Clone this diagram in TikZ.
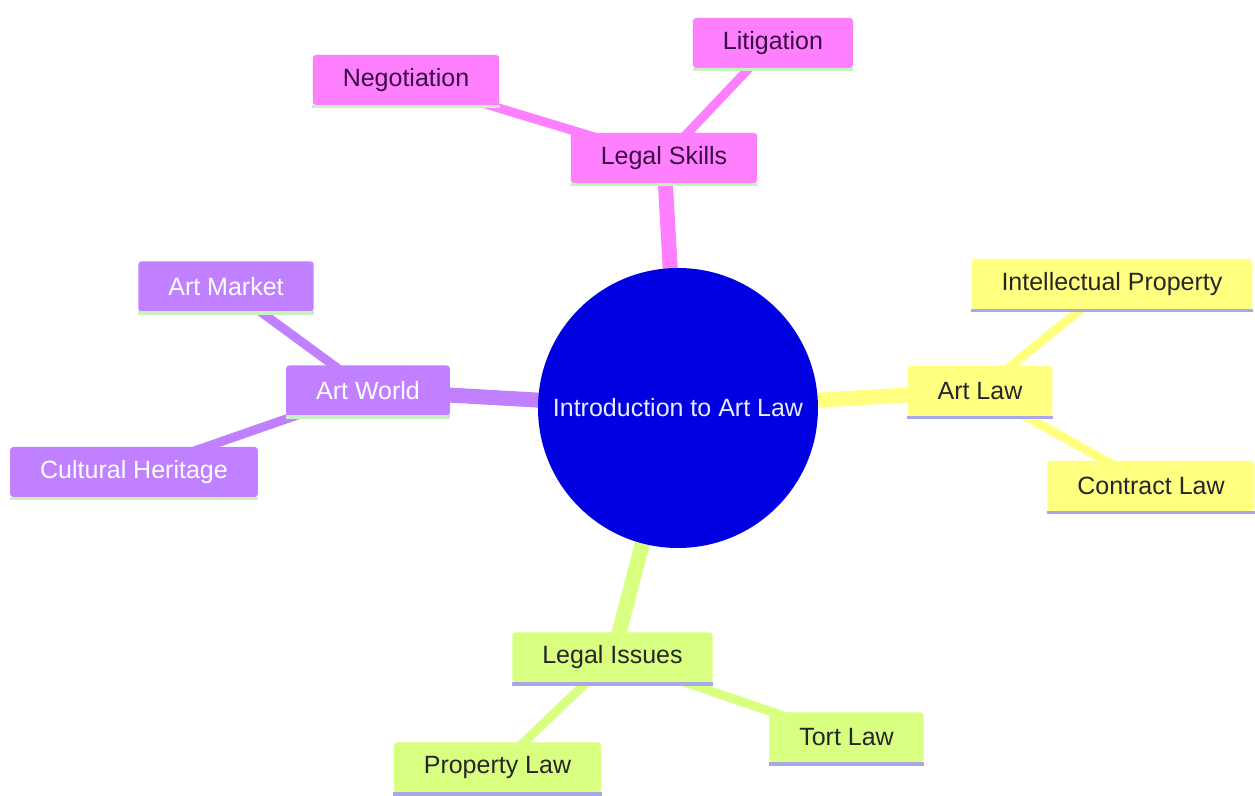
\documentclass[tikz,border=0pt]{standalone}
\usepackage{fontspec}
\setmainfont{Liberation Sans}
\usepackage{tikz}
\usetikzlibrary{positioning,backgrounds}

\definecolor{skillpink}{HTML}{FF80FF}
\definecolor{worldpurple}{HTML}{C080FF}
\definecolor{lawyellow}{HTML}{FFFF80}
\definecolor{issuegreen}{HTML}{D9FF80}
\definecolor{rootblue}{HTML}{0000E0}
\definecolor{pinktext}{HTML}{3B0A45}
\definecolor{lineg}{HTML}{C8F2C0}
\definecolor{linel}{HTML}{A8A8E8}

\tikzset{
  box/.style={rectangle, rounded corners=1.5pt, minimum height=25pt, inner xsep=15pt,
    font=\fontsize{12.5}{15}\selectfont, on grid},
  pinkbox/.style={box, fill=skillpink, text=pinktext},
  purplebox/.style={box, fill=worldpurple, text=white},
  yellowbox/.style={box, fill=lawyellow, text=black!85},
  greenbox/.style={box, fill=issuegreen, text=black!85},
  trunk/.style={line width=7.5pt},
  twig/.style={line width=4.5pt},
  uline/.style={line width=1.6pt}
}

\begin{document}
\begin{tikzpicture}
              \useasboundingbox (-339pt,-194pt) rectangle (288.5pt,204pt);
              \node[circle, fill=rootblue, minimum size=140pt, text=blue!8,
                font=\fontsize{12.5}{15}\selectfont] (c) at (0,0) {Introduction to Art Law};

              \node[pinkbox, above left=125pt and 7pt of c] (ls) {Legal Skills};
              \node[pinkbox, above left=39pt and 129pt of ls] (neg) {Negotiation};
              \node[pinkbox, above right=57.5pt and 54.5pt of ls] (lit) {Litigation};

              \node[purplebox, above left=8.75pt and 155pt of c] (aw) {Art World};
              \node[purplebox, above left=52pt and 71pt of aw] (am) {Art Market};
              \node[purplebox, below left=40.75pt and 117pt of aw] (ch) {Cultural Heritage};

              \node[yellowbox, above right=8.5pt and 151pt of c] (al) {Art Law};
              \node[yellowbox, above right=53.5pt and 66pt of al] (ip) {Intellectual Property};
              \node[yellowbox, below right=47.5pt and 85.5pt of al] (cl) {Contract Law};

              \node[greenbox, below left=124.75pt and 32.75pt of c] (li) {Legal Issues};
              \node[greenbox, below left=55pt and 57.5pt of li] (pl) {Property Law};
              \node[greenbox, below right=40pt and 117pt of li] (tl) {Tort Law};

              %underlines
              \foreach \n in {ls,neg,lit,aw,am,ch}
                \draw[uline, lineg] ([yshift=-0.6pt]\n.south west) -- ([yshift=-0.6pt]\n.south east);
              \foreach \n in {al,ip,cl,li,pl,tl}
                \draw[uline, linel] ([yshift=-0.6pt]\n.south west) -- ([yshift=-0.6pt]\n.south east);

              %edges
              \begin{scope}[on background layer]
                \draw[trunk, skillpink] (c.center) -- (ls.center);
                \draw[twig, skillpink] (ls.center) -- (neg.center);
                \draw[twig, skillpink] (ls.center) -- (lit.center);
                \draw[trunk, worldpurple] (c.center) -- (aw.center);
                \draw[twig, worldpurple] (aw.center) -- (am.center);
                \draw[twig, worldpurple] (aw.center) -- (ch.center);
                \draw[trunk, lawyellow] (c.center) -- (al.center);
                \draw[twig, lawyellow] (al.center) -- (ip.center);
                \draw[twig, lawyellow] (al.center) -- (cl.center);
                \draw[trunk, issuegreen] (c.center) -- (li.center);
                \draw[twig, issuegreen] (li.center) -- (pl.center);
                \draw[twig, issuegreen] (li.center) -- (tl.center);
              \end{scope}
            \end{tikzpicture}
\end{document}
